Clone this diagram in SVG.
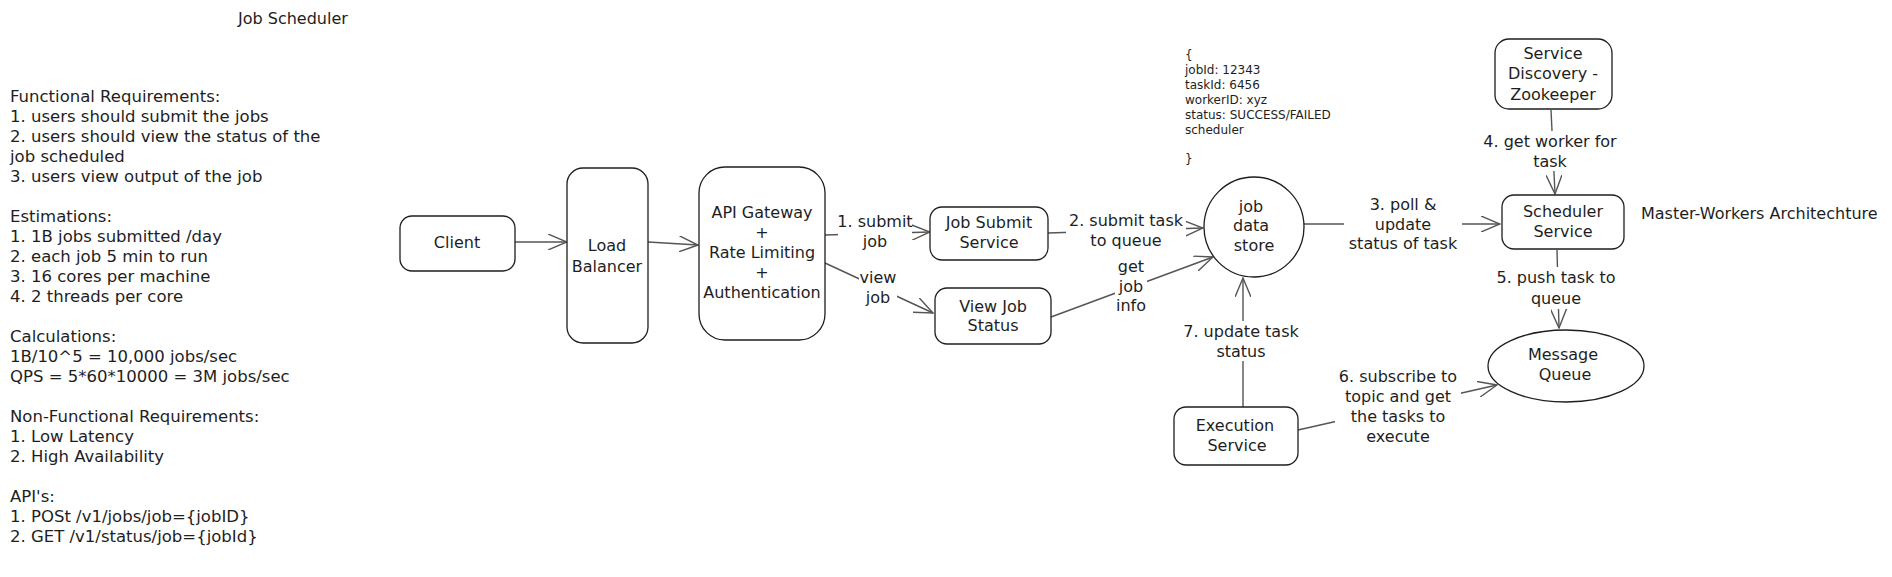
<svg xmlns="http://www.w3.org/2000/svg" width="1892" height="577" viewBox="0 0 1892 577">
<defs>
<marker id="arr" markerUnits="userSpaceOnUse" viewBox="0 0 20 16" refX="19" refY="8" markerWidth="20" markerHeight="16" orient="auto">
<path d="M0,0 L19,8 L0,16" fill="none" stroke="#555" stroke-width="1.4"/>
</marker>
<style>
text{font-family:"DejaVu Sans","Liberation Sans",sans-serif;font-size:16px;fill:#1e1e1e}
.c{text-anchor:middle}
.notes{font-size:16.5px}
.box{fill:#fff;stroke:#1e1e1e;stroke-width:1.3}
.ln{fill:none;stroke:#555;stroke-width:1.4;marker-end:url(#arr)}
.bg{fill:#fff}
.mono{font-size:12px}
</style>
</defs>
<rect width="1892" height="577" fill="#fff"/>

<g id="title"><text x="238" y="24">Job Scheduler</text></g>

<g id="notes">
<text class="notes" x="10" y="102">Functional Requirements:<tspan x="10" dy="20">1. users should submit the jobs</tspan><tspan x="10" dy="20">2. users should view the status of the</tspan><tspan x="10" dy="20">job scheduled</tspan><tspan x="10" dy="20">3. users view output of the job</tspan><tspan x="10" dy="40">Estimations:</tspan><tspan x="10" dy="20">1. 1B jobs submitted /day</tspan><tspan x="10" dy="20">2. each job 5 min to run</tspan><tspan x="10" dy="20">3. 16 cores per machine</tspan><tspan x="10" dy="20">4. 2 threads per core</tspan><tspan x="10" dy="40">Calculations:</tspan><tspan x="10" dy="20">1B/10^5 = 10,000 jobs/sec</tspan><tspan x="10" dy="20">QPS = 5*60*10000 = 3M jobs/sec</tspan><tspan x="10" dy="40">Non-Functional Requirements:</tspan><tspan x="10" dy="20">1. Low Latency</tspan><tspan x="10" dy="20">2. High Availability</tspan><tspan x="10" dy="40">API's:</tspan><tspan x="10" dy="20">1. POSt /v1/jobs/job={jobID}</tspan><tspan x="10" dy="20">2. GET /v1/status/job={jobId}</tspan></text>
</g>

<g id="json">
<text class="mono" x="1185" y="59">{<tspan x="1185" dy="15">jobId: 12343</tspan><tspan x="1185" dy="15">taskId: 6456</tspan><tspan x="1185" dy="15">workerID: xyz</tspan><tspan x="1185" dy="15">status: SUCCESS/FAILED</tspan><tspan x="1185" dy="15">scheduler</tspan><tspan x="1185" dy="29">}</tspan></text>
</g>

<g id="connectors">
<path class="ln" d="M515,242 L567,242"/>
<path class="ln" d="M648,242 L698,245"/>
<path class="ln" d="M825,235 L930,232"/>
<path class="ln" d="M825,263 L933,313"/>
<path class="ln" d="M1048,233 L1203,228"/>
<path class="ln" d="M1051,317 L1213,257"/>
<path class="ln" d="M1304,224 L1500,224"/>
<path class="ln" d="M1551,110 L1555,194"/>
<path class="ln" d="M1557,250 L1559,328"/>
<path class="ln" d="M1243,407 L1243,278"/>
<path class="ln" d="M1298,430 L1497,385"/>

<rect class="bg" x="838" y="211" width="74" height="40"/>
<text class="c" x="875" y="227">1. submit</text><text class="c" x="875" y="247">job</text>
<rect class="bg" x="859" y="267" width="38" height="40"/>
<text class="c" x="878" y="283">view</text><text class="c" x="878" y="303">job</text>
<rect class="bg" x="1066" y="210" width="120" height="41"/>
<text class="c" x="1126" y="226">2. submit task</text><text class="c" x="1126" y="246">to queue</text>
<rect class="bg" x="1115" y="256" width="32" height="60"/>
<text class="c" x="1131" y="272">get</text><text class="c" x="1131" y="292">job</text><text class="c" x="1131" y="311">info</text>
<rect class="bg" x="1344" y="194" width="118" height="60"/>
<text class="c" x="1403" y="210">3. poll &amp;</text><text class="c" x="1403" y="230">update</text><text class="c" x="1403" y="249">status of task</text>
<rect class="bg" x="1480" y="131" width="140" height="40"/>
<text class="c" x="1550" y="147">4. get worker for</text><text class="c" x="1550" y="167">task</text>
<rect class="bg" x="1493" y="267" width="126" height="42"/>
<text class="c" x="1556" y="283">5. push task to</text><text class="c" x="1556" y="304">queue</text>
<rect class="bg" x="1181" y="321" width="120" height="40"/>
<text class="c" x="1241" y="337">7. update task</text><text class="c" x="1241" y="357">status</text>
<rect class="bg" x="1335" y="366" width="126" height="80"/>
<text class="c" x="1398" y="382">6. subscribe to</text><text class="c" x="1398" y="402">topic and get</text><text class="c" x="1398" y="422">the tasks to</text><text class="c" x="1398" y="442">execute</text>
</g>

<g id="client">
<rect class="box" x="400" y="216" width="115" height="55" rx="12"/>
<text class="c" x="457" y="248">Client</text>
</g>
<g id="load-balancer">
<rect class="box" x="567" y="168" width="81" height="175" rx="16"/>
<text class="c" x="607" y="251">Load</text><text class="c" x="607" y="272">Balancer</text>
</g>
<g id="api-gateway">
<rect class="box" x="699" y="167" width="126" height="173" rx="26"/>
<text class="c" x="762" y="218">API Gateway</text><text class="c" x="762" y="238">+</text><text class="c" x="762" y="258">Rate Limiting</text><text class="c" x="762" y="278">+</text><text class="c" x="762" y="298">Authentication</text>
</g>
<g id="job-submit-service">
<rect class="box" x="930" y="207" width="118" height="53" rx="12"/>
<text class="c" x="989" y="228">Job Submit</text><text class="c" x="989" y="248">Service</text>
</g>
<g id="view-job-status">
<rect class="box" x="935" y="288" width="116" height="56" rx="12"/>
<text class="c" x="993" y="312">View Job</text><text class="c" x="993" y="331">Status</text>
</g>
<g id="job-data-store">
<circle class="box" cx="1254" cy="227" r="50"/>
<text class="c" x="1251" y="212">job</text><text class="c" x="1251" y="231">data</text><text class="c" x="1254" y="251">store</text>
</g>
<g id="service-discovery">
<rect class="box" x="1495" y="39" width="117" height="70" rx="14"/>
<text class="c" x="1553" y="59">Service</text><text class="c" x="1553" y="79">Discovery -</text><text class="c" x="1553" y="100">Zookeeper</text>
</g>
<g id="scheduler-service">
<rect class="box" x="1502" y="195" width="122" height="54" rx="12"/>
<text class="c" x="1563" y="217">Scheduler</text><text class="c" x="1563" y="237">Service</text>
</g>
<g id="master-workers-note"><text x="1641" y="219">Master-Workers Architechture</text></g>
<g id="message-queue">
<ellipse class="box" cx="1566" cy="366" rx="78" ry="36"/>
<text class="c" x="1563" y="360">Message</text><text class="c" x="1565" y="380">Queue</text>
</g>
<g id="execution-service">
<rect class="box" x="1174" y="407" width="124" height="58" rx="12"/>
<text class="c" x="1235" y="431">Execution</text><text class="c" x="1237" y="451">Service</text>
</g>
</svg>
